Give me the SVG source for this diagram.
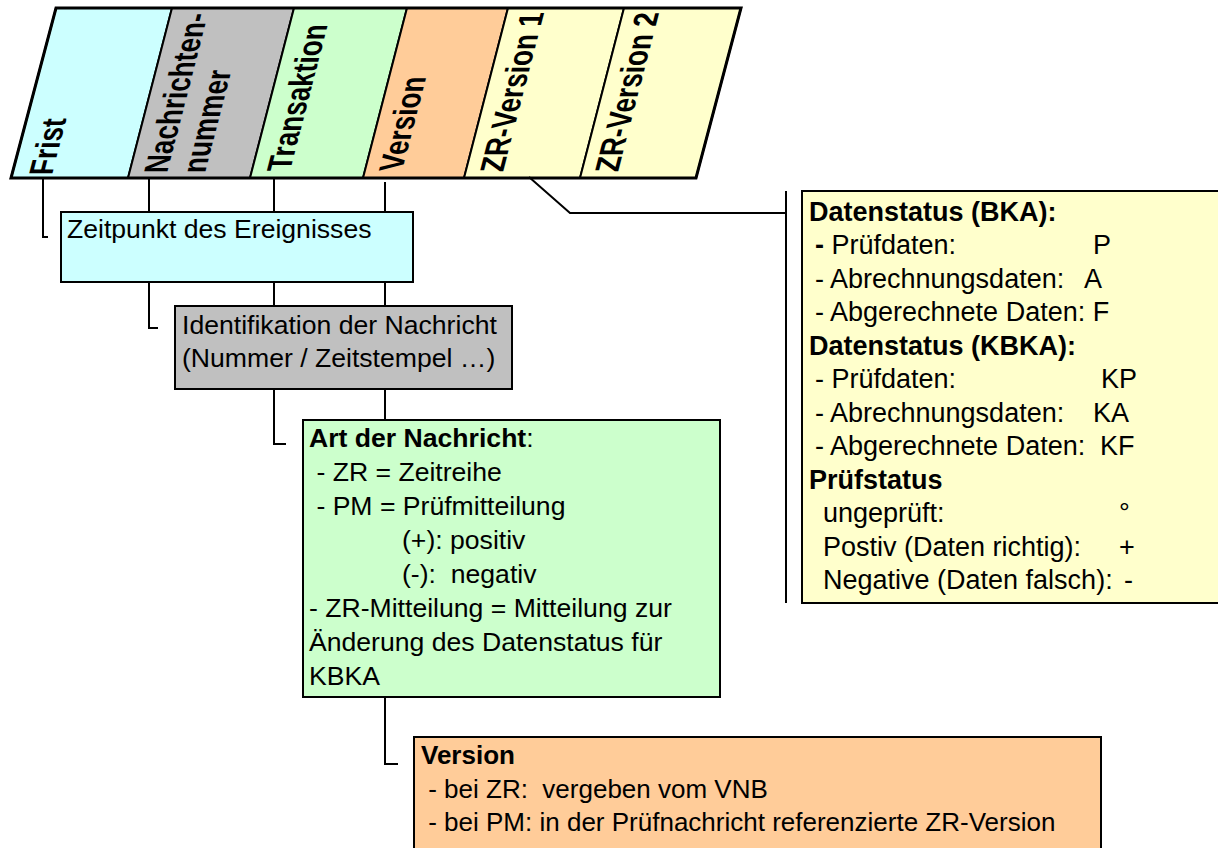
<svg xmlns="http://www.w3.org/2000/svg" width="1218" height="848" viewBox="0 0 1218 848">
<style>
text{font-family:"Liberation Sans",Arial,sans-serif;font-size:26.6px;fill:#000}
.b{font-weight:bold}
.hd{font-weight:bold;font-size:27px}
.ds{font-size:27px}
.band{stroke:#000;stroke-width:2}
.box{stroke:#000;stroke-width:2}
.ln{stroke:#000;stroke-width:2;fill:none}
</style>
<rect width="1218" height="848" fill="#fff"/>
<g id="header">
<polygon class="band" fill="#CCFFFF" points="56,8 172,8 128,178 11,178"/>
<polygon class="band" fill="#C0C0C0" points="172,8 294,8 250,178 128,178"/>
<polygon class="band" fill="#CCFFCC" points="294,8 407,8 363,178 250,178"/>
<polygon class="band" fill="#FFCC99" points="407,8 508,8 464,178 363,178"/>
<polygon class="band" fill="#FFFFCC" points="508,8 624,8 580,178 464,178"/>
<polygon class="band" fill="#FFFFCC" points="624,8 741,8 696,178 580,178"/>
<polygon points="56,8 741,8 696,178 11,178" fill="none" stroke="#000" stroke-width="3"/>
<text class="hd" transform="matrix(0.25,-0.968,1.25,0,52,175)">Frist</text>
<text class="hd" transform="matrix(0.25,-0.968,1.25,0,167,173)">Nachrichten-</text>
<text class="hd" transform="matrix(0.25,-0.968,1.25,0,205,173)">nummer</text>
<text class="hd" transform="matrix(0.25,-0.968,1.25,0,290,171)">Transaktion</text>
<text class="hd" transform="matrix(0.25,-0.968,1.25,0,402,171)">Version</text>
<text class="hd" transform="matrix(0.25,-0.968,1.25,0,503,172)">ZR-Version 1</text>
<text class="hd" transform="matrix(0.25,-0.968,1.25,0,618,172)">ZR-Version 2</text>
</g>
<g id="connectors">
<polyline class="ln" points="43,179 43,237 48,237"/>
<line class="ln" x1="149" y1="179" x2="149" y2="212"/>
<polyline class="ln" points="149,282 149,328 158,328"/>
<line class="ln" x1="274" y1="179" x2="274" y2="212"/>
<line class="ln" x1="274" y1="282" x2="274" y2="306"/>
<polyline class="ln" points="274,389 274,444 286,444"/>
<line class="ln" x1="385" y1="182" x2="385" y2="212"/>
<line class="ln" x1="385" y1="282" x2="385" y2="306"/>
<line class="ln" x1="385" y1="389" x2="385" y2="420"/>
<polyline class="ln" points="385,697 385,764 398,764"/>
<polyline class="ln" points="529,177 570,213 786,213"/>
<line class="ln" x1="786" y1="191" x2="786" y2="603"/>
</g>
<g id="zeitpunkt">
<rect class="box" x="61" y="212" width="352" height="70" fill="#CCFFFF"/>
<text x="67" y="238">Zeitpunkt des Ereignisses</text>
</g>
<g id="identifikation">
<rect class="box" x="175" y="306" width="337" height="83" fill="#C0C0C0"/>
<text x="182" y="334">Identifikation der Nachricht</text>
<text x="182" y="367">(Nummer / Zeitstempel …)</text>
</g>
<g id="art">
<rect class="box" x="303" y="420" width="417" height="277" fill="#CCFFCC"/>
<text x="309" y="447"><tspan class="b">Art der Nachricht</tspan>:</text>
<text x="309" y="481" xml:space="preserve"> - ZR = Zeitreihe</text>
<text x="309" y="515" xml:space="preserve"> - PM = Prüfmitteilung</text>
<text x="402" y="549">(+): positiv</text>
<text x="402" y="583" xml:space="preserve">(-):  negativ</text>
<text x="309" y="617">- ZR-Mitteilung = Mitteilung zur</text>
<text x="309" y="651">Änderung des Datenstatus für</text>
<text x="309" y="685">KBKA</text>
</g>
<g id="datenstatus">
<rect class="box" x="802" y="191" width="430" height="412" fill="#FFFFCC"/>
<text class="b ds" x="809" y="221">Datenstatus (BKA):</text>
<text class="ds" x="815" y="254"><tspan class="b">-</tspan> Prüfdaten:<tspan x="1093">P</tspan></text>
<text class="ds" x="815" y="288">- Abrechnungsdaten:<tspan x="1084">A</tspan></text>
<text class="ds" x="815" y="321">- Abgerechnete Daten: F</text>
<text class="b ds" x="809" y="355">Datenstatus (KBKA):</text>
<text class="ds" x="815" y="388">- Prüfdaten:<tspan x="1101">KP</tspan></text>
<text class="ds" x="815" y="422">- Abrechnungsdaten:<tspan x="1093">KA</tspan></text>
<text class="ds" x="815" y="455">- Abgerechnete Daten:<tspan x="1100">KF</tspan></text>
<text class="b ds" x="809" y="489">Prüfstatus</text>
<text class="ds" x="823" y="522">ungeprüft:<tspan x="1119">°</tspan></text>
<text class="ds" x="823" y="556">Postiv (Daten richtig):<tspan x="1119">+</tspan></text>
<text class="ds" x="823" y="589">Negative (Daten falsch):<tspan x="1124">-</tspan></text>
</g>
<g id="version">
<rect class="box" x="414" y="737" width="687" height="130" fill="#FFCC99"/>
<text class="b" x="421" y="764" style="font-size:26px">Version</text>
<text x="421" y="798" xml:space="preserve" style="font-size:26px"> - bei ZR:  vergeben vom VNB</text>
<text x="421" y="831" xml:space="preserve" style="font-size:26px"> - bei PM: in der Prüfnachricht referenzierte ZR-Version</text>
</g>
</svg>
